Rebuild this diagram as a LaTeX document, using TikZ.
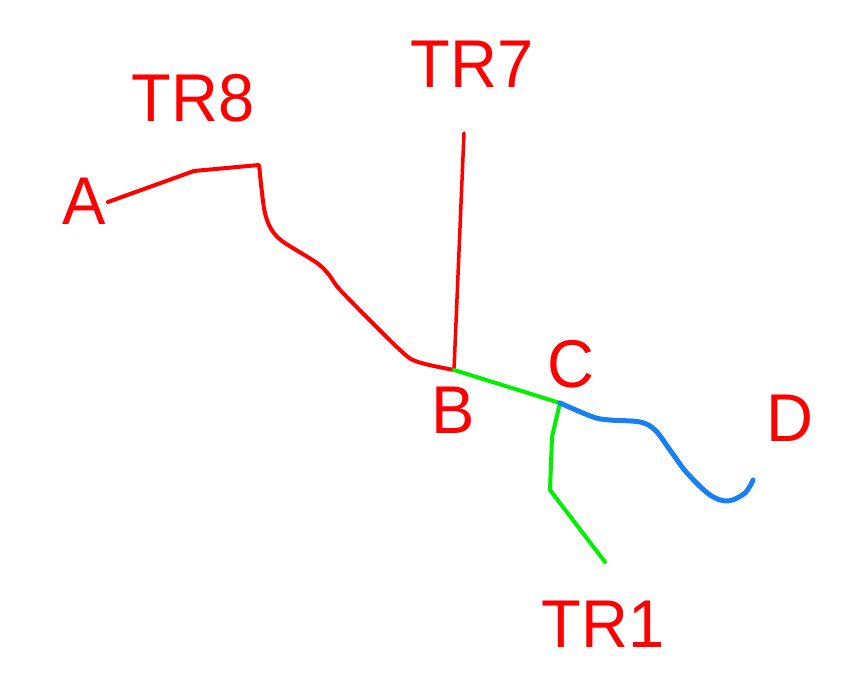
\documentclass[tikz,border=0pt]{standalone}
\usepackage{fontspec}
\setmainfont{Liberation Sans}
\definecolor{tuyendo}{RGB}{255,0,0}
\definecolor{tuyenxanh}{RGB}{0,240,0}
\definecolor{tuyenlam}{RGB}{24,128,240}
\begin{document}
\begin{tikzpicture}[x=1pt, y=-1pt, line join=round, line cap=round,
		nhan/.style={text=tuyendo, inner sep=0pt, font=\fontsize{65}{65}\selectfont}]
	\useasboundingbox (0,0) rectangle (855,700);
	\coordinate (A1) at (108,202); % dau tuyen A
	\coordinate (B) at (454,370); % nut B
	\coordinate (C) at (560,403); % nut C
	\coordinate (T7) at (464,133);
	\coordinate (T1) at (605,562);
	\coordinate (D1) at (753,480);
	% nhan
	\node[nhan, yscale=1.04] (nA) at (84,201) {A};
	\node[nhan, yscale=1.04] (nTR8) at (193,98) {TR8};
	\node[nhan, yscale=1.04] (nTR7) at (472,64) {TR7};
	\node[nhan, yscale=1.04] (nB) at (453,410) {B};
	\node[nhan, yscale=1.04] (nC) at (571,364) {C};
	\node[nhan, yscale=1.04] (nD) at (790,418) {D};
	\node[nhan, yscale=1.04] (nTR1) at (603,624) {TR1};
	% tuyen do
	\draw[tuyendo, line width=4pt] (A1)--(194,171)--(259,165)
		-- plot[smooth, tension=.5] coordinates {(259,165) (264,208) (270,227) (282,241) (317,263) (330,276) (342,292) (400,350) (418,362) (B)};
	\draw[tuyendo, line width=3.5pt] (T7)--(B);
	% tuyen xanh
	\draw[tuyenxanh, line width=4pt] (B)--(C)--(552,437)--(550,490)--(T1);
	% tuyen lam
	\draw[tuyenlam, line width=5pt] plot[smooth, tension=.55] coordinates {(C) (593,417) (610,420) (640,422) (655,430) (670,450) (687,473) (710,495) (728,501) (745,493) (D1)};
\end{tikzpicture}
\end{document}
